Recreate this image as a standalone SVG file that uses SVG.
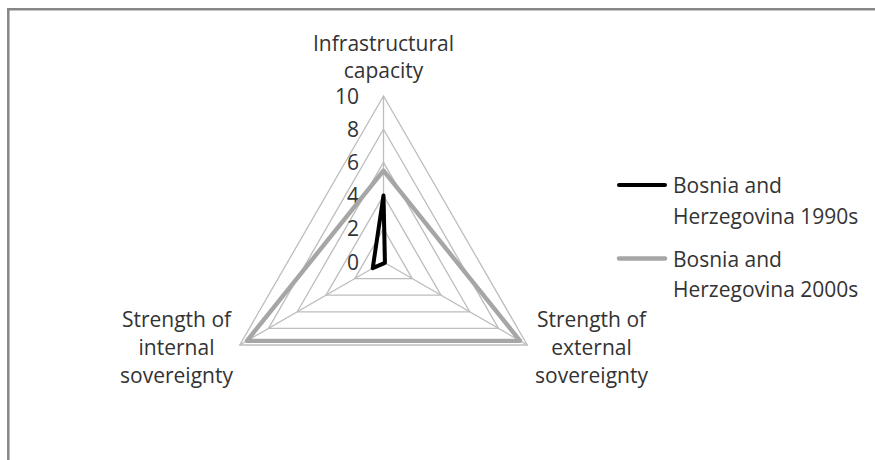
<svg xmlns="http://www.w3.org/2000/svg" width="875" height="460" viewBox="0 0 875 460">
  <style>
    .lbl { font-family: "Open Sans", "Liberation Sans", sans-serif; font-size: 21px; fill: #333333; }
    .mid { text-anchor: middle; }
    .end { text-anchor: end; }
    .grid { fill: none; stroke: #bdbdbd; stroke-width: 1.3; }
    .s1990 { fill: none; stroke: #000000; stroke-width: 4; stroke-linejoin: round; stroke-linecap: round; }
    .s2000 { fill: none; stroke: #a6a6a6; stroke-width: 4.4; stroke-linejoin: round; stroke-linecap: round; }
  </style>

  <rect x="0" y="0" width="875" height="460" fill="#ffffff"/>

  <!-- chart frame (top and left edges) -->
  <g id="frame" stroke="#878787" stroke-width="2.5" fill="none">
    <line x1="7" y1="9.3" x2="875" y2="9.3"/>
    <line x1="8.3" y1="8" x2="8.3" y2="460"/>
  </g>

  <!-- radar grid: rings at 2,4,6,8,10 and three spokes -->
  <g id="grid">
    <polygon class="grid" points="383.5,228.8 412.25,278.6 354.75,278.6"/>
    <polygon class="grid" points="383.5,195.6 441,295.2 326,295.2"/>
    <polygon class="grid" points="383.5,162.4 469.75,311.8 297.25,311.8"/>
    <polygon class="grid" points="383.5,129.2 498.5,328.4 268.5,328.4"/>
    <polygon class="grid" points="383.5,96 527.26,345 239.74,345"/>
    <line class="grid" x1="383.5" y1="262" x2="383.5" y2="96"/>
    <line class="grid" x1="383.5" y1="262" x2="527.26" y2="345"/>
    <line class="grid" x1="383.5" y1="262" x2="239.74" y2="345"/>
  </g>

  <!-- value axis labels -->
  <g id="axis-values" class="lbl end">
    <text x="359" y="103.5">10</text>
    <text x="359" y="136.7">8</text>
    <text x="359" y="169.9">6</text>
    <text x="359" y="203.1">4</text>
    <text x="359" y="236.3">2</text>
    <text x="359" y="269.5">0</text>
  </g>

  <!-- data series -->
  <g id="connectors">
    <polygon id="series-2000s" class="s2000" points="383.5,170.7 520.07,340.85 246.93,340.85"/>
    <polygon id="series-1990s" class="s1990" points="383.5,195.6 384.94,262.83 372.72,268.2"/>
  </g>

  <!-- category labels -->
  <g id="cat-infrastructural" class="lbl mid">
    <text x="383.5" y="51">Infrastructural</text>
    <text x="383.5" y="78">capacity</text>
  </g>
  <g id="cat-internal" class="lbl mid">
    <text x="176.5" y="327">Strength of</text>
    <text x="176.5" y="355">internal</text>
    <text x="176.5" y="383">sovereignty</text>
  </g>
  <g id="cat-external" class="lbl mid">
    <text x="591.5" y="327">Strength of</text>
    <text x="591.5" y="355">external</text>
    <text x="591.5" y="383">sovereignty</text>
  </g>

  <!-- legend -->
  <g id="legend-1990s">
    <line x1="619" y1="185" x2="665" y2="185" stroke="#000000" stroke-width="4" stroke-linecap="round"/>
    <text class="lbl" x="673" y="193">Bosnia and</text>
    <text class="lbl" x="673" y="223.5">Herzegovina 1990s</text>
  </g>
  <g id="legend-2000s">
    <line x1="619" y1="258.5" x2="665" y2="258.5" stroke="#a6a6a6" stroke-width="4.4" stroke-linecap="round"/>
    <text class="lbl" x="673" y="267">Bosnia and</text>
    <text class="lbl" x="673" y="297">Herzegovina 2000s</text>
  </g>
</svg>
